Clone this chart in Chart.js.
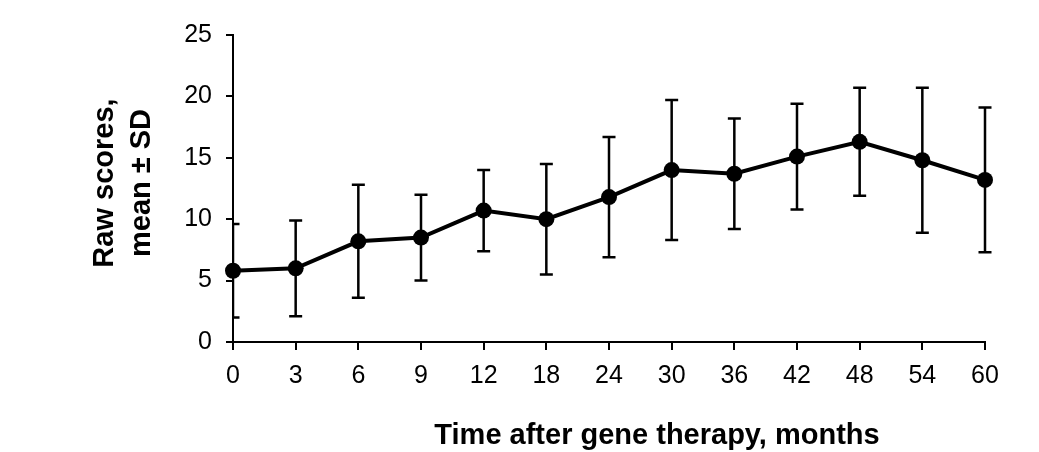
<!DOCTYPE html>
<html lang="en">
<head>
    <meta charset="UTF-8">
    <title>Raw scores after gene therapy</title>
    <script src="https://cdn.jsdelivr.net/npm/chart.js@4"></script>
    <style>
        body { margin: 0; background: #fff; }
        #chart { display: block; }
    </style>
</head>
<body>
    <canvas id="chart" width="1039" height="452"></canvas>
    <script>
        // months after therapy (category axis, equally spaced)
        const months = ["0", "3", "6", "9", "12", "18", "24", "30", "36", "42", "48", "54", "60"];
        const meanScores = [5.8, 6.0, 8.2, 8.5, 10.7, 10.0, 11.8, 14.0, 13.7, 15.1, 16.3, 14.8, 13.2];
        const sdScores = [3.8, 3.9, 4.6, 3.5, 3.3, 4.5, 4.9, 5.7, 4.5, 4.3, 4.4, 5.9, 5.9];
        const yTicks = [0, 5, 10, 15, 20, 25];

        const FONT = "'Liberation Sans', Arial, sans-serif";

        // whiskers: mean ± SD, clipped at the y axis like the original
        const errorBars = {
            id: "errorBars",
            beforeDatasetsDraw(chart) {
                const { ctx, chartArea } = chart;
                const meta = chart.getDatasetMeta(0);
                const y = chart.scales.y;
                ctx.save();
                ctx.beginPath();
                ctx.rect(chartArea.left, 0, chart.width - chartArea.left, chart.height);
                ctx.clip();
                ctx.strokeStyle = "#000";
                ctx.lineWidth = 2.5;
                meta.data.forEach((pt, i) => {
                    const top = y.getPixelForValue(meanScores[i] + sdScores[i]);
                    const bot = y.getPixelForValue(meanScores[i] - sdScores[i]);
                    ctx.beginPath();
                    ctx.moveTo(pt.x, top);
                    ctx.lineTo(pt.x, bot);
                    ctx.moveTo(pt.x - 6.5, top);
                    ctx.lineTo(pt.x + 6.5, top);
                    ctx.moveTo(pt.x - 6.5, bot);
                    ctx.lineTo(pt.x + 6.5, bot);
                    ctx.stroke();
                });
                ctx.restore();
            }
        };

        // axis titles
        const axisTitles = {
            id: "axisTitles",
            afterDraw(chart) {
                const { ctx, chartArea } = chart;
                ctx.save();
                ctx.fillStyle = "#000";
                ctx.font = "bold 29px " + FONT;
                ctx.textAlign = "center";
                ctx.textBaseline = "alphabetic";
                ctx.fillText("Time after gene therapy, months", chartArea.left + chartArea.width / 2 + 48, 444);

                ctx.translate(0, 183);
                ctx.rotate(-Math.PI / 2);
                ctx.fillText("Raw scores,", 0, 113);
                ctx.fillText("mean \u00b1 SD", 0, 150);
                ctx.restore();
            }
        };

        const ctx = document.getElementById("chart").getContext("2d");

        new Chart(ctx, {
            type: "line",
            data: {
                labels: months,
                datasets: [{
                    data: meanScores,
                    borderColor: "#000",
                    backgroundColor: "#000",
                    borderWidth: 4,
                    pointRadius: 8,
                    pointBackgroundColor: "#000",
                    pointBorderWidth: 0,
                    tension: 0
                }]
            },
            options: {
                responsive: false,
                animation: false,
                layout: { padding: { top: 35, right: 54, left: 0, bottom: 0 } },
                plugins: {
                    legend: { display: false },
                    tooltip: { enabled: false }
                },
                scales: {
                    x: {
                        type: "category",
                        offset: false,
                        afterFit: (s) => { s.height = 110; },
                        border: { display: true, color: "#000", width: 2 },
                        grid: { drawOnChartArea: false, drawTicks: true, tickLength: 8, color: "#000", lineWidth: 2 },
                        ticks: { color: "#000", font: { family: FONT, size: 25 }, padding: 11, maxRotation: 0, autoSkip: false }
                    },
                    y: {
                        min: 0,
                        max: 25,
                        afterFit: (s) => { s.width = 233; },
                        afterBuildTicks: (s) => { s.ticks = yTicks.map((v) => ({ value: v })); },
                        border: { display: true, color: "#000", width: 2 },
                        grid: { drawOnChartArea: false, drawTicks: true, tickLength: 7, color: "#000", lineWidth: 2 },
                        ticks: { color: "#000", font: { family: FONT, size: 25 }, padding: 14 }
                    }
                }
            },
            plugins: [errorBars, axisTitles]
        });
    </script>
</body>
</html>
